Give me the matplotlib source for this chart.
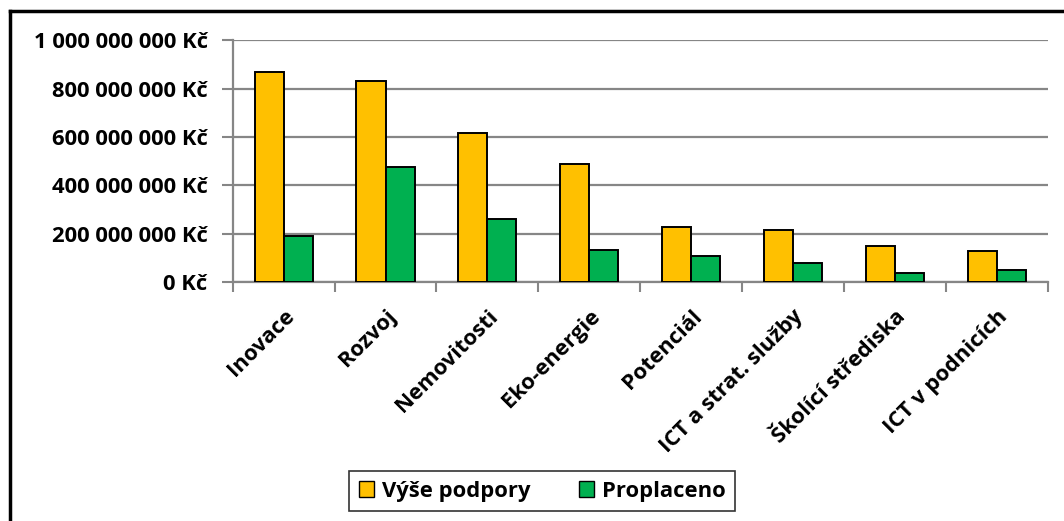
import matplotlib

matplotlib.use("Agg")
import matplotlib.pyplot as plt
from matplotlib.lines import Line2D
from matplotlib.ticker import FixedLocator, FuncFormatter
import numpy as np

ORANGE = "#FFC000"
GREEN = "#00B050"
GRID = "#868686"

categories = ["Inovace", "Rozvoj", "Nemovitosti", "Eko-energie", "Potenciál",
              "ICT a strat. služby", "Školící střediska", "ICT v podnicích"]
vyse_podpory = [869e6, 830e6, 615e6, 488e6, 227e6, 217e6, 149e6, 128e6]
proplaceno = [190e6, 475e6, 260e6, 132e6, 107e6, 80e6, 38e6, 50e6]
y_ticks = [0, 200e6, 400e6, 600e6, 800e6, 1000e6]
series_names = ["Výše podpory", "Proplaceno"]

plt.rcParams["font.family"] = ["Open Sans", "DejaVu Sans"]
plt.rcParams["font.weight"] = "bold"
FS = 15.8


def kc(v, _pos=None):
    s = f"{int(round(v)):,}".replace(",", " ")
    return f"{s} Kč"


fig = plt.figure(figsize=(10.64, 5.21), dpi=100)
ax = fig.add_axes([0.2187, 0.4582, 0.766, 0.4644])

x = np.arange(len(categories))
w = 0.285
ax.bar(x - w / 2, vyse_podpory, w, color=ORANGE, edgecolor="black", linewidth=1.4,
       label=series_names[0], zorder=3)
ax.bar(x + w / 2, proplaceno, w, color=GREEN, edgecolor="black", linewidth=1.4,
       label=series_names[1], zorder=3)

ax.set_xlim(-0.5, len(categories) - 0.5)
ax.set_ylim(0, 1e9)
ax.set_yticks(y_ticks)
ax.yaxis.set_major_formatter(FuncFormatter(kc))
ax.grid(axis="y", color=GRID, linewidth=1.6, zorder=0)

ax.set_xticks(x)
ax.set_xticklabels(categories, rotation=45, ha="right", va="top", rotation_mode="anchor")
ax.xaxis.set_minor_locator(FixedLocator(np.arange(-0.5, len(categories), 1.0)))
ax.tick_params(axis="x", which="major", length=0, pad=17, labelsize=FS)
ax.tick_params(axis="x", which="minor", length=7, width=1.5, color=GRID)
ax.tick_params(axis="y", length=8, width=1.5, color=GRID, pad=10, labelsize=FS)

for side in ["top", "right"]:
    ax.spines[side].set_visible(False)
for side in ["left", "bottom"]:
    ax.spines[side].set_color(GRID)
    ax.spines[side].set_linewidth(1.6)

leg = fig.legend(loc="center", bbox_to_anchor=(542 / 1064, 1 - 491 / 521), ncol=2,
                 fontsize=FS, frameon=True, fancybox=False, edgecolor="black",
                 handlelength=0.7, handleheight=0.7, columnspacing=2.2,
                 borderpad=0.45, handletextpad=0.35)
leg.get_frame().set_linewidth(1.2)
for h in leg.legend_handles:
    h.set_linewidth(1.0)

# outer chart border (only top and left edges are visible in the crop)
fig.add_artist(Line2D([9.5 / 1064, 9.5 / 1064], [0, 1 - 10.5 / 521], color="black", linewidth=2.5,
                      transform=fig.transFigure))
fig.add_artist(Line2D([9.5 / 1064, 1], [1 - 10.5 / 521, 1 - 10.5 / 521], color="black", linewidth=2.5,
                      transform=fig.transFigure))

fig.savefig("out.png", dpi=100, facecolor="white")
